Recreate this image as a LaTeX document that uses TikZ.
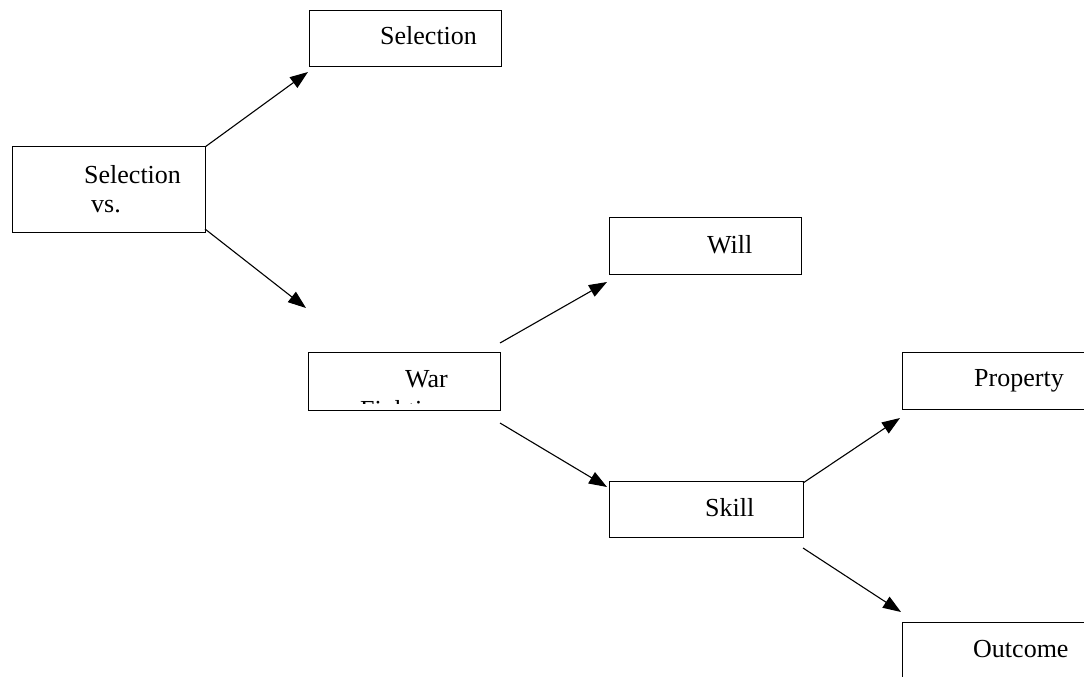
\documentclass[tikz,border=0pt]{standalone}
\usepackage{fontspec}
\setmainfont{Liberation Serif}
\usetikzlibrary{arrows.meta}
\begin{document}
\begin{tikzpicture}[x=1pt,y=-1pt,
  box/.style={draw=black, line width=1.4pt, rectangle, inner sep=0pt, anchor=north west},
  txt/.style={inner sep=0pt, anchor=base west, font=\fontsize{26}{30}\selectfont},
  arr/.style={line width=1.1pt, -{Triangle[length=18pt,width=13pt]}}]
\useasboundingbox (0,0) rectangle (1084,677);
\clip (0,0) rectangle (1084,677);
\fill[white] (0,0) rectangle (1084,677);
% boxes
\node[box, minimum width=192pt, minimum height=56pt] (seltop) at (309,10) {};
\node[box, minimum width=193pt, minimum height=86pt] (selvs) at (12,146) {};
\node[box, minimum width=192pt, minimum height=57pt] (will) at (609,217) {};
\node[box, minimum width=192pt, minimum height=58pt] (war) at (308,352) {};
\node[box, minimum width=200pt, minimum height=57pt] (prop) at (902,352) {};
\node[box, minimum width=194pt, minimum height=56pt] (skill) at (609,481) {};
\node[box, minimum width=200pt, minimum height=70pt] (outc) at (902,622) {};
% texts
\node[txt] (tseltop) at (380,45) {Selection};
\node[txt] (tselvs) at (84,183) {Selection};
\node[txt] (tvs) at (91,212) {vs.};
\node[txt] (twill) at (707,253) {Will};
\node[txt] (twar) at (405,387) {War};
\begin{scope}
  \clip (308,352) rectangle (500,403);
  \node[txt] (tfight) at (360,418) {Fighting};
\end{scope}
\node[txt] (tprop) at (974,386) {Property};
\node[txt] (tskill) at (705,516) {Skill};
\node[txt] (toutc) at (973,657) {Outcome};
% connector ends
\coordinate (a1s) at (205,147); \coordinate (a1e) at (308,72);
\coordinate (a2s) at (205,229); \coordinate (a2e) at (306,308);
\coordinate (a3s) at (500,343); \coordinate (a3e) at (607,282);
\coordinate (a4s) at (500,423); \coordinate (a4e) at (607,487);
\coordinate (a5s) at (803,483); \coordinate (a5e) at (900,418);
\coordinate (a6s) at (803,548); \coordinate (a6e) at (901,612);
\draw[arr] (a1s) -- (a1e);
\draw[arr] (a2s) -- (a2e);
\draw[arr] (a3s) -- (a3e);
\draw[arr] (a4s) -- (a4e);
\draw[arr] (a5s) -- (a5e);
\draw[arr] (a6s) -- (a6e);
\end{tikzpicture}
\end{document}
